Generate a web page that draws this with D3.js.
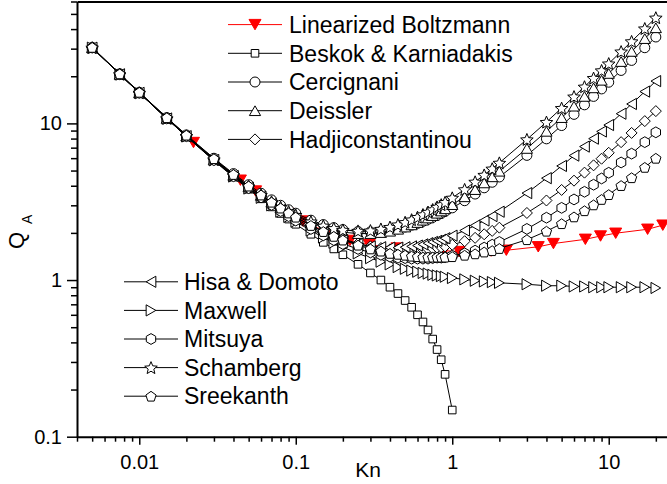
<!DOCTYPE html>
<html><head><meta charset="utf-8">
<script src="https://cdn.jsdelivr.net/npm/d3@7"></script>
<style>
body{margin:0;background:#fff}
svg text{font-family:"Liberation Sans",Arial,Helvetica,sans-serif;fill:#000}
</style></head><body>
<svg id="c" width="667" height="484"></svg>
<script>
// ---------- data ----------
const kn = [0.005,0.0075,0.01,0.015,0.02,0.03,0.04,0.05,0.06,0.07,0.08,0.09,0.1,0.125,0.15,0.175,0.2,0.25,0.3,0.35,0.4,0.45,0.5,0.55,0.6,0.65,0.7,0.75,0.8,0.85,0.9,1,1.2,1.4,1.6,1.8,2,3,4,5,6,7,8,9,10,12,14,17,20];
const knBeskok = [0.005,0.0075,0.01,0.015,0.02,0.03,0.04,0.05,0.06,0.07,0.08,0.09,0.1,0.125,0.15,0.175,0.2,0.25,0.3,0.35,0.4,0.45,0.5,0.55,0.6,0.65,0.7,0.75,0.8,0.85,0.9,1];
const knLB = [0.0222,0.0443,0.0554,0.0886,0.111,0.177,0.222,0.295,0.443,0.591,0.886,1.108,1.772,2.216,3.545,4.431,7.09,8.862,11.08,17.72,22.16];

const qLB = [7.55,4.34,3.70,2.67,2.38,1.92,1.79,1.68,1.60,1.56,1.54,1.52,1.53,1.55,1.63,1.71,1.82,1.91,1.99,2.11,2.24];
const qBeskok = [30.43,20.57,15.65,10.72,8.25,5.78,4.54,3.80,3.30,2.93,2.66,2.45,2.27,1.96,1.74,1.58,1.45,1.26,1.11,1.00,0.90,0.82,0.74,0.67,0.60,0.54,0.48,0.42,0.36,0.31,0.25,0.148];
const qCercignani = [30.57,20.72,15.80,10.89,8.44,5.99,4.78,4.06,3.58,3.25,3.00,2.81,2.67,2.41,2.26,2.16,2.10,2.04,2.03,2.04,2.08,2.12,2.18,2.24,2.30,2.37,2.44,2.51,2.58,2.66,2.74,2.89,3.21,3.54,3.88,4.21,4.55,6.25,7.97,9.69,11.42,13.14,14.87,16.60,18.32,21.78,25.24,30.42,35.61];
const qDeissler = [30.44,20.59,15.68,10.76,8.31,5.87,4.66,3.94,3.47,3.14,2.89,2.71,2.56,2.32,2.17,2.08,2.02,1.98,1.98,2.01,2.05,2.11,2.18,2.25,2.33,2.41,2.49,2.58,2.67,2.76,2.85,3.03,3.40,3.78,4.17,4.56,4.95,6.92,8.90,10.89,12.88,14.87,16.86,18.85,20.84,24.83,28.81,34.79,40.77];
const qHadji = [30.53,20.68,15.76,10.84,8.38,5.92,4.70,3.97,3.48,3.13,2.87,2.67,2.52,2.23,2.05,1.92,1.83,1.71,1.64,1.60,1.57,1.56,1.55,1.55,1.56,1.57,1.58,1.59,1.61,1.62,1.64,1.68,1.77,1.86,1.96,2.06,2.16,2.68,3.22,3.76,4.31,4.85,5.40,5.95,6.49,7.59,8.69,10.34,11.98];
const qHisa = [30.43,20.58,15.67,10.75,8.29,5.84,4.61,3.88,3.40,3.06,2.80,2.61,2.45,2.18,2.00,1.89,1.80,1.70,1.64,1.62,1.61,1.61,1.62,1.64,1.66,1.69,1.72,1.75,1.78,1.81,1.85,1.92,2.07,2.23,2.40,2.56,2.73,3.59,4.47,5.35,6.23,7.11,7.99,8.88,9.76,11.53,13.30,15.96,18.62];
const qMaxwell = [30.43,20.58,15.66,10.73,8.27,5.81,4.58,3.84,3.35,3.00,2.73,2.53,2.36,2.07,1.87,1.73,1.62,1.48,1.38,1.31,1.26,1.21,1.18,1.15,1.13,1.11,1.10,1.08,1.07,1.06,1.05,1.03,1.01,0.99,0.98,0.97,0.96,0.94,0.92,0.92,0.91,0.91,0.90,0.90,0.90,0.90,0.90,0.90,0.89];
const qMitsuya = [30.43,20.58,15.66,10.74,8.28,5.82,4.60,3.86,3.37,3.02,2.76,2.56,2.40,2.12,1.93,1.80,1.70,1.58,1.50,1.45,1.41,1.39,1.38,1.37,1.37,1.37,1.37,1.38,1.39,1.39,1.40,1.43,1.48,1.54,1.61,1.68,1.75,2.12,2.50,2.89,3.27,3.66,4.06,4.45,4.84,5.63,6.41,7.59,8.77];
const qSchamberg = [30.44,20.59,15.68,10.77,8.32,5.88,4.67,3.96,3.49,3.16,2.92,2.74,2.60,2.36,2.22,2.14,2.09,2.06,2.07,2.12,2.18,2.26,2.34,2.43,2.52,2.62,2.72,2.82,2.93,3.03,3.14,3.35,3.79,4.24,4.69,5.14,5.60,7.90,10.20,12.52,14.83,17.15,19.47,21.78,24.10,28.74,33.38,40.34,47.30];
const qSreekanth = [30.56,20.71,15.79,10.87,8.41,5.95,4.72,3.98,3.49,3.14,2.88,2.68,2.52,2.23,2.04,1.90,1.80,1.67,1.58,1.53,1.48,1.46,1.44,1.42,1.41,1.40,1.40,1.40,1.40,1.40,1.40,1.41,1.44,1.47,1.51,1.54,1.59,1.81,2.05,2.29,2.53,2.77,3.02,3.27,3.51,4.01,4.50,5.24,5.99];

const seriesNames = ["Linearized Boltzmann","Beskok & Karniadakis","Cercignani","Deissler","Hadjiconstantinou","Hisa & Domoto","Maxwell","Mitsuya","Schamberg","Sreekanth"];

const xTickValues = [0.01,0.1,1,10];
const xTickLabels = ["0.01","0.1","1","10"];
const yTickValues = [0.1,1,10];
const yTickLabels = ["0.1","1","10"];

// ---------- chart ----------
const series = [
  {name:seriesNames[0], k:knLB,     q:qLB,        sym:"triDown", color:"#ff0000", fill:"#ff0000"},
  {name:seriesNames[1], k:knBeskok, q:qBeskok,    sym:"square"},
  {name:seriesNames[2], k:kn,       q:qCercignani,sym:"circle"},
  {name:seriesNames[3], k:kn,       q:qDeissler,  sym:"triUp"},
  {name:seriesNames[4], k:kn,       q:qHadji,     sym:"diamond"},
  {name:seriesNames[5], k:kn,       q:qHisa,      sym:"triLeft"},
  {name:seriesNames[6], k:kn,       q:qMaxwell,   sym:"triRight"},
  {name:seriesNames[7], k:kn,       q:qMitsuya,   sym:"hexagon"},
  {name:seriesNames[8], k:kn,       q:qSchamberg, sym:"star"},
  {name:seriesNames[9], k:kn,       q:qSreekanth, sym:"pentagon"}
];

const symSize = {triDown:6, triUp:5.6, triLeft:5.6, triRight:5.6, square:3.8, circle:5, diamond:5.5, hexagon:5.4, star:6.6, pentagon:5.4};

function poly(pts){ return "M" + pts.map(p => p[0].toFixed(2)+","+p[1].toFixed(2)).join("L") + "Z"; }
function symPath(type){
  const r = symSize[type], h = r*Math.sqrt(3);
  switch(type){
    case "triDown": return poly([[-r,-h/2],[r,-h/2],[0,h/2]]);
    case "triUp": return poly([[-r,h/2],[r,h/2],[0,-h/2]]);
    case "triLeft": return poly([[h/2,-r],[h/2,r],[-h/2,0]]);
    case "triRight": return poly([[-h/2,-r],[-h/2,r],[h/2,0]]);
    case "square": return poly([[-r,-r],[r,-r],[r,r],[-r,r]]);
    case "diamond": return poly([[0,-r],[r,0],[0,r],[-r,0]]);
    case "circle": return `M${r},0A${r},${r} 0 1,1 ${-r},0A${r},${r} 0 1,1 ${r},0Z`;
    case "hexagon": {
      const p=[]; for(let i=0;i<6;i++){const a=(-90+60*i)*Math.PI/180; p.push([r*Math.cos(a), r*Math.sin(a)]);} return poly(p);
    }
    case "pentagon": {
      const p=[]; const off = r*(1-Math.cos(Math.PI/5))/2;
      for(let i=0;i<5;i++){const a=(-90+72*i)*Math.PI/180; p.push([r*Math.cos(a), r*Math.sin(a)+off]);} return poly(p);
    }
    case "star": {
      const p=[]; const ri=r*0.45; const off = r*(1-Math.cos(Math.PI/5))/2;
      for(let i=0;i<10;i++){const a=(-90+36*i)*Math.PI/180; const rr=i%2?ri:r; p.push([rr*Math.cos(a), rr*Math.sin(a)+off]);} return poly(p);
    }
  }
}

const svg = d3.select("#c");
const x = d3.scaleLog().domain([0.004, 25]).range([77, 671]);
const y = d3.scaleLog().domain([0.1, 60]).range([436.7, 1.5]);

// data
const line = d3.line().x(d => x(d.k)).y(d => y(d.q));
const plot = svg.append("g");
series.forEach(s => {
  const pts = s.k.map((k,i) => ({k, q:s.q[i]}));
  const g = plot.append("g");
  g.append("path").datum(pts).attr("d", line)
    .attr("fill","none").attr("stroke", s.color || "#000").attr("stroke-width", 1);
  g.selectAll("path.m").data(pts).join("path").attr("class","m")
    .attr("d", symPath(s.sym))
    .attr("transform", d => `translate(${x(d.k)},${y(d.q)})`)
    .attr("fill", s.fill || "#fff").attr("stroke", s.color || "#000").attr("stroke-width", 1);
});

// axes
const xMinor = [], yMinor = [];
[0.001,0.01,0.1,1,10].forEach(dec => { for(let m=2;m<=9;m++){ const v=dec*m; if(v>=0.004 && v<=25) xMinor.push(v);} });
[0.1,1,10].forEach(dec => { for(let m=2;m<=9;m++){ const v=dec*m; if(v<=60) yMinor.push(v);} });

function styleAxis(g){
  g.attr("font-size", 20).attr("font-family", "Liberation Sans, Arial, sans-serif");
  g.select(".domain").attr("stroke-width", 2);
  g.selectAll(".tick line").attr("stroke-width", 1.5);
}
const gx = svg.append("g").attr("transform","translate(0,436.7)");
gx.call(d3.axisBottom(x).tickValues(xTickValues).tickFormat((d,i)=>xTickLabels[i]).tickSize(8).tickPadding(10).tickSizeOuter(0));
styleAxis(gx);
const gxm = svg.append("g").attr("transform","translate(0,436.7)");
gxm.call(d3.axisBottom(x).tickValues(xMinor).tickFormat("").tickSize(5).tickSizeOuter(0));
gxm.select(".domain").remove(); gxm.selectAll(".tick line").attr("stroke-width",1.5);

const gy = svg.append("g").attr("transform","translate(77,0)");
gy.call(d3.axisLeft(y).tickValues(yTickValues).tickFormat((d,i)=>yTickLabels[i]).tickSize(10).tickPadding(5).tickSizeOuter(0));
styleAxis(gy);
const gym = svg.append("g").attr("transform","translate(77,0)");
gym.call(d3.axisLeft(y).tickValues(yMinor).tickFormat("").tickSize(6).tickSizeOuter(0));
gym.select(".domain").remove(); gym.selectAll(".tick line").attr("stroke-width",1.5);

// top border
const gt = svg.append("g").attr("transform","translate(0,1.5)");
gt.call(d3.axisTop(x).tickValues([]).tickSizeOuter(0));
gt.select(".domain").attr("stroke-width", 2);

// axis titles
svg.append("text").attr("x", 368).attr("y", 477).attr("text-anchor","middle").attr("font-size", 21).text("Kn");
const yl = svg.append("text").attr("transform","translate(24,249) rotate(-90)").attr("font-size", 22);
yl.append("tspan").text("Q");
yl.append("tspan").attr("font-size", 14).attr("dy", 8).attr("dx", 8).text("A");

// legends
function legend(items, x0, xText, yc0, step){
  items.forEach((s, i) => {
    const yc = yc0 + i*step;
    const g = svg.append("g");
    g.append("line").attr("x1", x0).attr("x2", x0+54).attr("y1", yc).attr("y2", yc)
      .attr("stroke", s.color || "#000").attr("stroke-width", 1);
    g.append("path").attr("d", symPath(s.sym)).attr("transform", `translate(${x0+27},${yc})`)
      .attr("fill", s.fill || "#fff").attr("stroke", s.color || "#000").attr("stroke-width", 1);
    g.append("text").attr("x", xText).attr("y", yc + 8.2).attr("font-size", 23).text(s.name);
  });
}
legend(series.slice(0,5), 228, 289, 24.6, 28.7);
legend(series.slice(5), 124, 184, 281.8, 28.6);
</script>
</body></html>
